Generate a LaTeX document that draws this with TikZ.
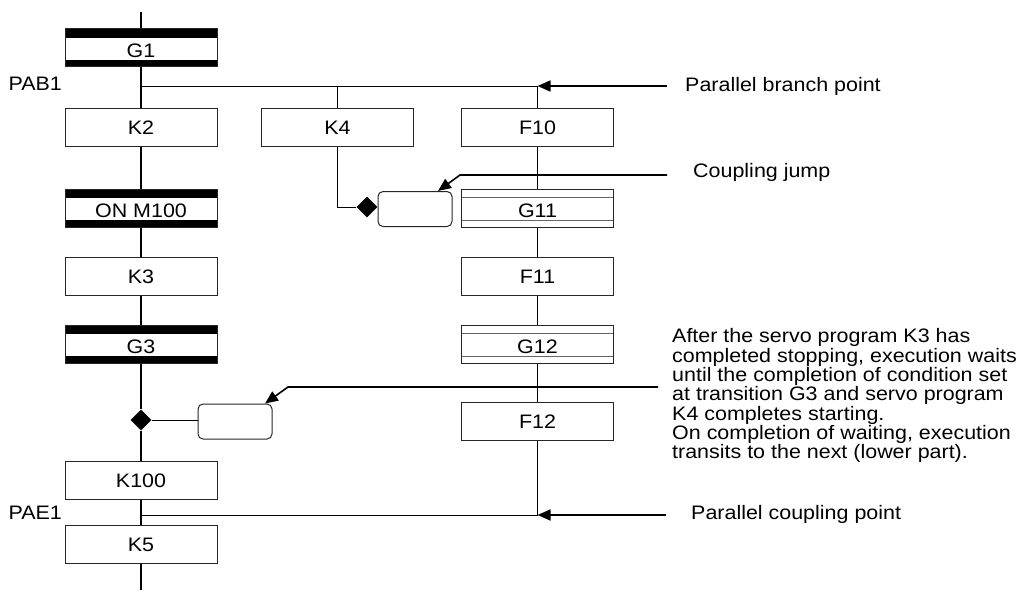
\documentclass[tikz,border=0pt]{standalone}
\usepackage{fontspec}
\setmainfont{Liberation Sans}
\newfontfamily\widefont[FakeStretch=1.1]{Liberation Sans}
\usetikzlibrary{shapes.geometric,arrows.meta}
\newcommand\mytightlines{\lineskiplimit=-100pt\relax}
\begin{document}
\begin{tikzpicture}[x=1pt,y=-1pt,
  boxfont/.style={font=\widefont\fontsize{19.5}{22}\selectfont},
  stepbox/.style={draw=black!85,line width=1pt,fill=white,minimum width=152pt,minimum height=38pt,
     inner sep=0pt,boxfont,text height=14pt,text depth=0pt},
  transbox/.style={stepbox,text height=19pt,path picture={
     \fill[black] (path picture bounding box.north west) rectangle ([yshift=-9pt]path picture bounding box.north east);
     \fill[black] (path picture bounding box.south west) rectangle ([yshift=7pt]path picture bounding box.south east);}},
  gbox/.style={stepbox,text height=19pt,path picture={
     \draw[black!60,line width=1pt] ([yshift=-8.5pt]path picture bounding box.north west) -- ([yshift=-8.5pt]path picture bounding box.north east);
     \draw[black!60,line width=1pt] ([yshift=6.5pt]path picture bounding box.south west) -- ([yshift=6.5pt]path picture bounding box.south east);}},
  dia/.style={diamond,aspect=1,fill=black,inner sep=0pt,minimum width=21pt,minimum height=21pt},
  jumpbox/.style={draw=black!85,line width=1pt,rounded corners=5pt,fill=white,minimum width=74pt,minimum height=35pt,inner sep=0pt},
  mainline/.style={line width=2pt},
  thinline/.style={line width=1pt},
  annot/.style={line width=1.6pt,-{Triangle[length=13pt,width=11pt]}},
  lbl/.style={inner sep=0pt,font=\widefont\fontsize{19.5}{22}\selectfont},
]
\useasboundingbox (0,0) rectangle (1027,590);

% main column
\node[transbox] (G1) at (141,47.5) {G1};
\node[stepbox] (K2) at (141,127) {K2};
\node[stepbox] (K4) at (337.5,127) {K4};
\node[stepbox] (F10) at (537.5,127) {F10};
\node[transbox] (ON) at (141,208) {ON M100};
\node[gbox] (G11) at (537.5,208) {G11};
\node[stepbox] (K3) at (141,276) {K3};
\node[stepbox] (F11) at (537.5,276) {F11};
\node[transbox] (G3) at (141,344) {G3};
\node[gbox] (G12) at (537.5,344) {G12};
\node[stepbox] (F12) at (537.5,421) {F12};
\node[stepbox] (K100) at (141,480.5) {K100};
\node[stepbox] (K5) at (141,544) {K5};

\node[dia] (d1) at (367,207) {};
\node[dia] (d2) at (141,420) {};
\node[jumpbox] (J1) at (415,209) {};
\node[jumpbox] (J2) at (235,421.5) {};

\node[lbl,anchor=east] (PAB) at (62,84) {PAB1};
\node[lbl,anchor=east] (PAE) at (62,513) {PAE1};

\coordinate (top) at (141,12);
\coordinate (bot) at (141,590);
\coordinate (pab) at (141,86);
\coordinate (pabR) at (537.5,86);
\coordinate (pae) at (141,515);
\coordinate (paeR) at (537.5,515);

\draw[mainline] (top) -- (G1) (G1) -- (K2) (K2) -- (ON) (ON) -- (K3) (K3) -- (G3)
  (G3) -- (d2) (d2) -- (K100) (K100) -- (K5) (K5) -- (bot);

\draw[thinline] (pab) -- (pabR) -- (F10);
\draw[thinline] (K4.north |- pab) -- (K4);
\draw[thinline] (F10) -- (G11) (G11) -- (F11) (F11) -- (G12) (G12) -- (F12);
\draw[thinline] (F12) -- (paeR) -- (pae);
\draw[thinline] (K4) |- (d1);
\draw[thinline] (d2) -- (d2 -| J2.west);

% annotations
\node[lbl,anchor=west] (t1) at (685,86) {Parallel branch point};
\coordinate (a1) at (667,86);
\draw[annot] (a1) -- (pabR);

\node[lbl,anchor=west] (t2) at (693,172) {Coupling jump};
\coordinate (c1) at (667,175);
\coordinate (c2) at (460,175);
\draw[annot] (c1) -- (c2) -- ([xshift=23pt]J1.north);

\node[lbl,anchor=west] (t3) at (691,514) {Parallel coupling point};
\coordinate (a3) at (666,515);
\draw[annot] (a3) -- (paeR);

\node[anchor=north west,inner sep=0pt,align=left,
  font=\widefont\fontsize{19.5}{19.3}\selectfont\mytightlines] (t4) at (672,328.5)
  {After the servo program K3 has\\
   completed stopping, execution waits\\
   until the completion of condition set\\
   at transition G3 and servo program\\
   K4 completes starting.\\
   On completion of waiting, execution\\
   transits to the next (lower part).};
\coordinate (b1) at (658,387);
\coordinate (b2) at (288,387);
\draw[annot] (b1) -- (b2) -- ([xshift=30pt]J2.north);
\end{tikzpicture}
\end{document}
